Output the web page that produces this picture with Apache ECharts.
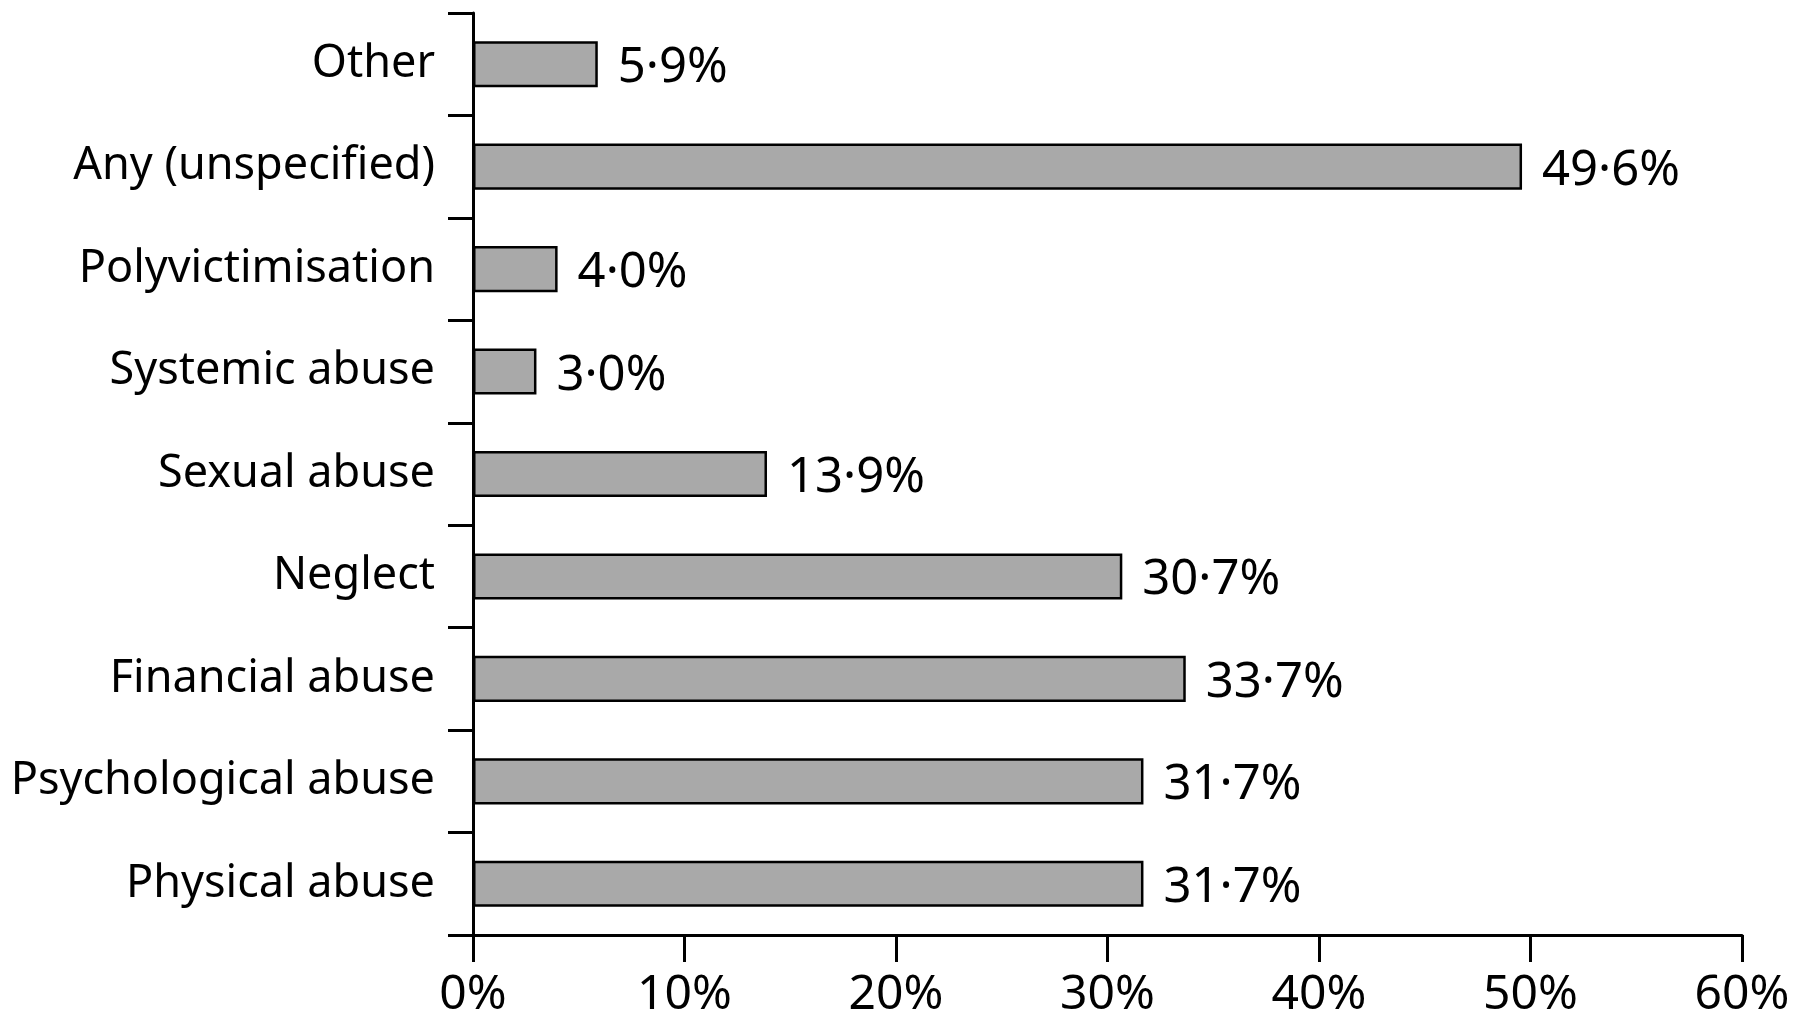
<!DOCTYPE html>
<html>
<head>
<meta charset="utf-8">
<script src="https://cdn.jsdelivr.net/npm/echarts@6/dist/echarts.min.js"></script>
<style>
html,body{margin:0;padding:0;background:#fff;}
#chart{width:1800px;height:1028px;}
</style>
</head>
<body>
<div id="chart"></div>
<script>
// Categories listed bottom to top (ECharts category y-axis starts at bottom)
var categories = ["Physical abuse", "Psychological abuse", "Financial abuse", "Neglect", "Sexual abuse", "Systemic abuse", "Polyvictimisation", "Any (unspecified)", "Other"];
var values = [31.7, 31.7, 33.7, 30.7, 13.9, 3.0, 4.0, 49.6, 5.9];
var xTicks = [0, 10, 20, 30, 40, 50, 60];

var FONT = '"Noto Sans"';
var chart = echarts.init(document.getElementById('chart'));
chart.setOption({
  animation: false,
  backgroundColor: '#fff',
  grid: {left: 473, right: 58, top: 13, bottom: 93, containLabel: false},
  xAxis: {
    type: 'value',
    min: xTicks[0], max: xTicks[xTicks.length - 1], interval: 10,
    axisLine: {show: true, lineStyle: {color: '#000', width: 3}},
    axisTick: {show: true, length: 27, lineStyle: {color: '#000', width: 3}},
    axisLabel: {color: '#000', fontFamily: FONT, fontSize: 48, margin: 36,
      formatter: function (v) { return v + '%'; }},
    splitLine: {show: false}
  },
  yAxis: {
    type: 'category',
    data: categories,
    axisLine: {show: true, lineStyle: {color: '#000', width: 3}},
    axisTick: {show: true, length: 25, alignWithLabel: false, lineStyle: {color: '#000', width: 3}},
    axisLabel: {color: '#000', fontFamily: FONT, fontSize: 45, margin: 38, padding: [4, 0, 0, 0]},
    splitLine: {show: false}
  },
  series: [{
    type: 'bar',
    data: values,
    barWidth: '45%',
    itemStyle: {color: '#a9a9a9', borderColor: '#000', borderWidth: 2.5},
    label: {
      show: true, position: 'right', distance: 20, offset: [0, 4],
      color: '#000', fontFamily: FONT, fontSize: 49,
      formatter: function (p) { return p.value.toFixed(1).replace('.', '\u00b7') + '%'; }
    }
  }]
});
</script>
</body>
</html>
